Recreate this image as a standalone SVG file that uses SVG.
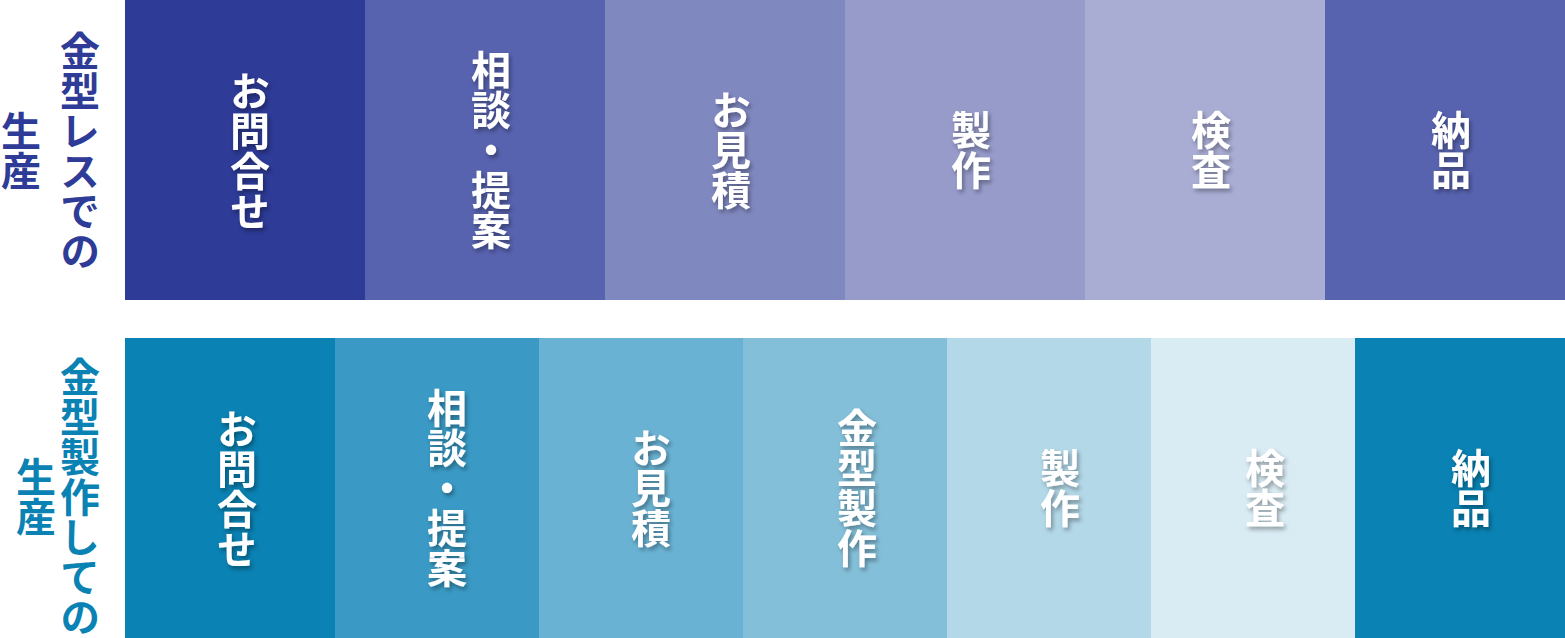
<svg xmlns="http://www.w3.org/2000/svg" width="1565" height="638" viewBox="0 0 1565 638">
<defs>
<filter id="sh" x="-30%" y="-30%" width="160%" height="160%">
<feDropShadow dx="2" dy="3" stdDeviation="2" flood-color="#000" flood-opacity="0.35"/>
</filter>
<style>
text{font-family:"Noto Sans CJK JP","Noto Sans CJK SC",sans-serif;font-weight:700;font-size:40px;writing-mode:vertical-rl;text-anchor:middle;dominant-baseline:central}
.w{fill:#fff;filter:url(#sh)}
.t1{fill:#2e3b97}
.t2{fill:#0a82b3}
</style>
</defs>
<rect width="1565" height="638" fill="#fff"/>
<g id="label-top">
<text class="t1" x="80" y="151">金型レスでの</text>
<text class="t1" x="21" y="151">生産</text>
</g>
<g id="label-bottom">
<text class="t2" x="80" y="497">金型製作しての</text>
<text class="t2" x="36" y="497">生産</text>
</g>
<g id="top-1"><rect x="125" y="0" width="240" height="300" fill="#2e3b97"/><text class="w" x="250" y="151">お問合せ</text></g>
<g id="top-2"><rect x="365" y="0" width="240" height="300" fill="#5763af"/><text class="w" x="491" y="150">相談・提案</text></g>
<g id="top-3"><rect x="605" y="0" width="240" height="300" fill="#8088c0"/><text class="w" x="731" y="150">お見積</text></g>
<g id="top-4"><rect x="845" y="0" width="240" height="300" fill="#969bca"/><text class="w" x="971" y="150">製作</text></g>
<g id="top-5"><rect x="1085" y="0" width="240" height="300" fill="#a9add4"/><text class="w" x="1211" y="150">検査</text></g>
<g id="top-6"><rect x="1325" y="0" width="240" height="300" fill="#5763af"/><text class="w" x="1451" y="150">納品</text></g>
<g id="bot-1"><rect x="125" y="338" width="210" height="300" fill="#0a82b3"/><text class="w" x="237" y="489">お問合せ</text></g>
<g id="bot-2"><rect x="335" y="338" width="204" height="300" fill="#3a9ac5"/><text class="w" x="447" y="488">相談・提案</text></g>
<g id="bot-3"><rect x="539" y="338" width="204" height="300" fill="#6ab2d3"/><text class="w" x="651" y="488">お見積</text></g>
<g id="bot-4"><rect x="743" y="338" width="204" height="300" fill="#84bfd9"/><text class="w" x="857" y="488">金型製作</text></g>
<g id="bot-5"><rect x="947" y="338" width="204" height="300" fill="#b3d8e8"/><text class="w" x="1060" y="488">製作</text></g>
<g id="bot-6"><rect x="1151" y="338" width="204" height="300" fill="#d9ebf3"/><text class="w" x="1265" y="488">検査</text></g>
<g id="bot-7"><rect x="1355" y="338" width="210" height="300" fill="#0a82b3"/><text class="w" x="1471" y="488">納品</text></g>
<g id="connectors"/>
</svg>
